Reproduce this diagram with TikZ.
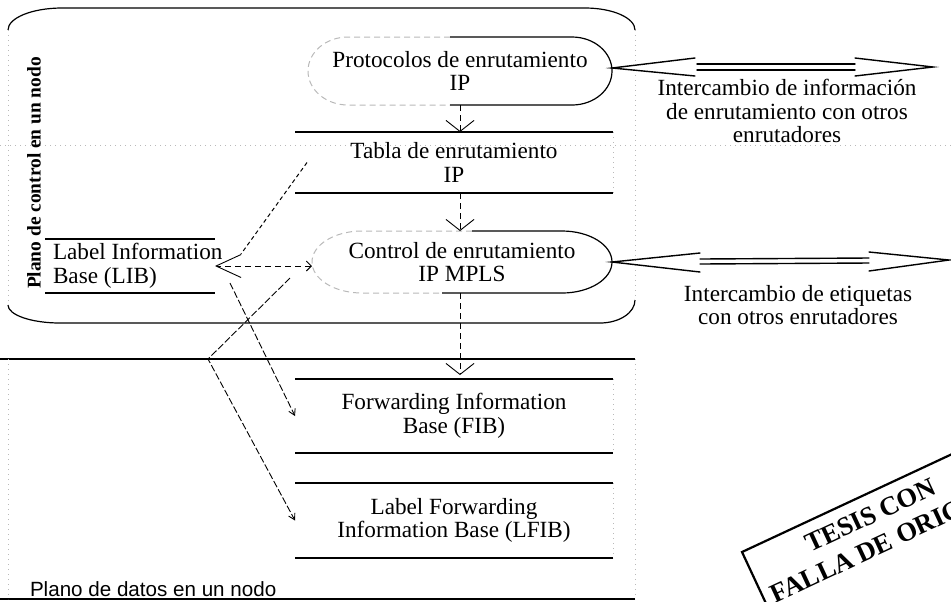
\documentclass[tikz,border=0pt]{standalone}
\usepackage{fontspec}
\setmainfont{Liberation Serif}
\newfontfamily\labelsans{Liberation Sans}
\usetikzlibrary{arrows.meta,calc}

\begin{document}
\begin{tikzpicture}[x=0.5pt,y=-0.5pt,
  every node/.style={inner sep=0pt, outer sep=0pt},
  body/.style={font=\fontsize{11.6}{11.8}\selectfont, align=center},
  flat/.style={body, draw=none, minimum width=159pt},
  boxline/.style={line width=0.6pt},
  ovalfaint/.style={gray!55, densely dashed, line width=0.5pt},
  faint/.style={gray!55, dotted, line width=0.5pt},
  flow/.style={densely dashed, line width=0.45pt, -{Straight Barb[length=5.5pt,width=14pt]}},
  thin link/.style={dash pattern=on 3.5pt off 1.2pt, line width=0.45pt, -{Straight Barb[length=3pt,width=3.5pt]}},
  bigarr/.style={line width=0.7pt, line cap=round},
  stamp/.style={font=\bfseries\fontsize{13.3}{15.5}\selectfont, align=center, transform shape}
]
\useasboundingbox (0,0) rectangle (951,601);

% ---------- control plane frame ----------
\draw[boxline] (8,30) arc[start angle=180, end angle=270, x radius=54, y radius=22]
  -- (585,8) arc[start angle=270, end angle=360, x radius=50, y radius=22];
\draw[boxline] (635,300) arc[start angle=0, end angle=90, x radius=35, y radius=23]
  -- (60,323) arc[start angle=90, end angle=180, x radius=52, y radius=18];
\draw[faint] (635,30) -- (635,300);
\draw[faint] (8,30) -- (8,305);
\draw[faint] (0,145) -- (951,145);
\node[rotate=90, font=\bfseries\fontsize{9.7}{10}\selectfont] (cplabel) at (34,173) {Plano de control en un nodo};

% ---------- data plane frame ----------
\draw[boxline] (0,359) -- (635,359);
\draw[boxline] (0,599) -- (635,599);
\draw[faint] (8,359) -- (8,599);
\draw[faint] (635,359) -- (635,599);
\node[anchor=base west, font=\labelsans\fontsize{10.3}{11}\selectfont] (dplabel) at (30,596) {Plano de datos en un nodo};

% ---------- oval blocks (outline: faded left part, solid right part) ----------
\node[body, minimum width=152pt, minimum height=34pt] (prot) at (460,71) {Protocolos de enrutamiento\\IP};
\draw[ovalfaint] ($(prot.north)+(-10,0)$) -- ($(prot.north west)+(40,0)$)
  arc[start angle=270, end angle=90, x radius=40, y radius=34] -- ($(prot.south)+(-10,0)$);
\draw[boxline] ($(prot.north)+(-10,0)$) -- ($(prot.north east)+(-40,0)$)
  arc[start angle=270, end angle=450, x radius=40, y radius=34] -- ($(prot.south)+(-10,0)$);

\node[body, minimum width=150pt, minimum height=31pt] (ctrl) at (462,262) {Control de enrutamiento\\IP MPLS};
\draw[ovalfaint] ($(ctrl.north)+(10,0)$) -- ($(ctrl.north west)+(50,0)$)
  arc[start angle=270, end angle=90, x radius=50, y radius=31] -- ($(ctrl.south)+(-20,0)$);
\draw[boxline] ($(ctrl.north)+(10,0)$) -- ($(ctrl.north east)+(-50,0)$)
  arc[start angle=270, end angle=450, x radius=50, y radius=31] -- ($(ctrl.south)+(-20,0)$);

% ---------- table blocks ----------
\node[flat, minimum height=30.5pt] (tabla) at (454,162.5) {Tabla de enrutamiento\\IP};
\node[flat, minimum height=37pt] (fib) at (454,416) {Forwarding Information\\Base (FIB)};
\node[flat, minimum height=37.5pt] (lfib) at (454,520.5) {Label Forwarding\\Information Base (LFIB)};
\node[draw=none, minimum width=85pt, minimum height=27pt] (lib) at (130,266) {};
\node[body, align=left, anchor=west] (libtxt) at ([xshift=4pt]lib.west) {Label Information\\Base (LIB)};

\foreach \b in {tabla,fib,lfib,lib}
  \draw[boxline] (\b.north west) -- (\b.north east) (\b.south west) -- (\b.south east);
\foreach \b in {tabla,fib,lfib}
  \draw[faint] (\b.north east) -- (\b.south east);

% ---------- flows inside the node ----------
\draw[flow] (prot.south) -- (prot.south |- tabla.north);
\draw[flow] (tabla.south -| prot.south) -- (prot.south |- ctrl.north);
\draw[flow, shorten >=2pt] (prot.south |- ctrl.south) -- (prot.south |- fib.north);

\draw[densely dashed, line width=0.45pt,
  {Straight Barb[length=2.5pt,width=5pt]}-{Straight Barb[length=12.5pt,width=11.5pt]}]
  (lib.east -| ctrl.west) -- (lib.east);
\draw[dash pattern=on 2pt off 1.5pt, line width=0.5pt] ([xshift=6pt]tabla.west) -- ($(lib.east)+(26,-12)$);

\coordinate (bendA) at (208,359);
\draw[thin link] ($(ctrl.west)+(-22,16)$) -- (bendA) -- (lfib.west);
\draw[thin link] ($(lib.east)+(15,17)$) -- (fib.west);

% ---------- exchanges with other routers ----------
\coordinate (tip1) at (612,68);
\coordinate (peer1) at (933,67);
\draw[bigarr] ($(tip1)+(83,-10)$) -- (tip1) -- ($(tip1)+(83,8)$);
\draw[bigarr] ($(peer1)+(-78,-9)$) -- (peer1) -- ($(peer1)+(-78,9)$);
\draw[bigarr] ($(tip1)+(85,-4)$) -- ($(peer1)+(-78,-3)$);
\draw[bigarr] ($(tip1)+(85,2)$) -- ($(peer1)+(-78,3)$);
\node[body] (xinfo) at (787,111) {Intercambio de información\\de enrutamiento con otros\\enrutadores};

\coordinate (peer2) at (949,260);
\draw[bigarr] ($(ctrl.east)+(88,-9)$) -- (ctrl.east) -- ($(ctrl.east)+(88,10)$);
\draw[bigarr] ($(peer2)+(-80,-8)$) -- (peer2) -- ($(peer2)+(-80,11)$);
\draw[bigarr] ($(ctrl.east)+(88,-3)$) -- ($(peer2)+(-80,-2)$);
\draw[bigarr] ($(ctrl.east)+(88,2)$) -- ($(peer2)+(-80,3)$);
\node[body] (xlab) at (798,305) {Intercambio de etiquetas\\con otros enrutadores};

% ---------- stamp ----------
\begin{scope}
  \clip (0,0) rectangle (951,601);
  \begin{scope}[shift={(742,552)}, rotate=25]
    \draw[line width=1.1pt] (340,0) -- (0,0) -- (0,120);
    \node[stamp, anchor=north] (stamp) at (132,12) {TESIS CON\\FALLA DE ORIGEN};
  \end{scope}
\end{scope}
\end{tikzpicture}
\end{document}
